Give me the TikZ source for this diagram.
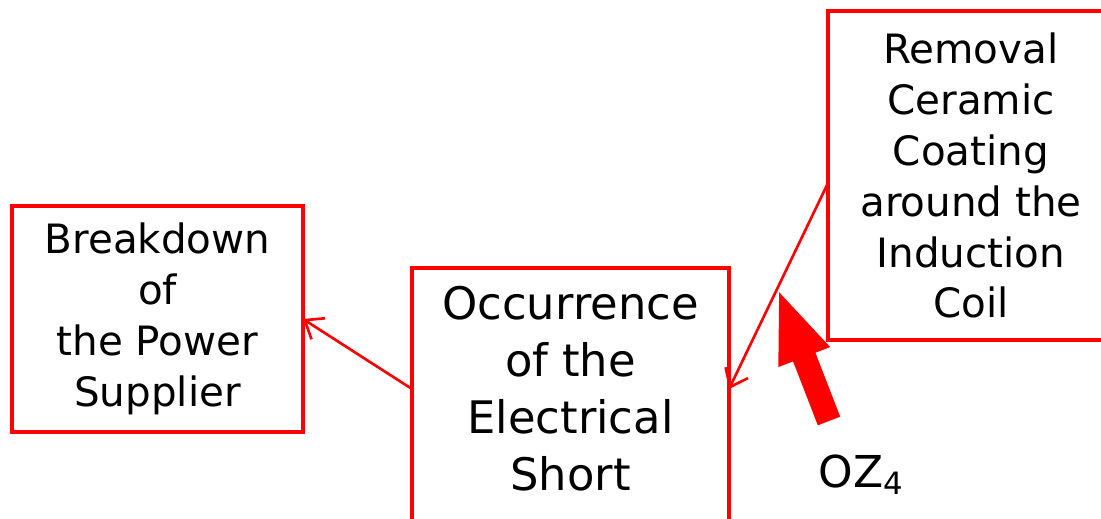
\documentclass[tikz,border=0pt]{standalone}
\usepackage{fontspec}
\setmainfont{DejaVu Sans}
\usetikzlibrary{arrows.meta,positioning}

\begin{document}
\begin{tikzpicture}[
  box/.style={draw=red, line width=2.2pt, align=center, inner sep=0pt, outer sep=0pt,
              font=\fontsize{23}{29}\selectfont},
  link/.style={draw=red, line width=1.5pt, -{Straight Barb[length=0.32cm, width=0.5cm]}},
  push/.style={red, line width=0.48cm, -{Triangle[length=1.48cm, width=0.98cm]}},
]
\useasboundingbox (0,0) rectangle (22.02,10.36);

% Effect and cause boxes
\node[box, minimum width=5.82cm, minimum height=4.52cm] (power) at (3.15,3.98)
  {Breakdown\\of\\the Power\\Supplier};
\node[box, minimum width=6.34cm, minimum height=6cm, anchor=north] (short) at (11.41,5.0) {};
\node[font=\fontsize{25.5}{32.4}\selectfont, align=center, inner sep=0pt] (shorttext)
  at (11.41,2.58) {Occurrence\\of the\\Electrical\\Short};
\node[box, minimum width=5.72cm, minimum height=6.58cm] (coil) at (19.42,6.85)
  {Removal\\Ceramic\\Coating\\around the\\Induction\\Coil};

% Cause chain
\draw[link] ([yshift=-0.15cm]coil.west) -- coordinate[pos=0.51] (hit)
  (short.east |- shorttext.center);
\draw[link] (short.west |- shorttext.center) -- (power.east);

% Operating zone marker
\coordinate (tail) at (16.58,1.94);
\draw[push] (tail) -- (hit);
\node[font=\fontsize{25}{30}\selectfont, inner sep=0pt] (oz) at (17.23,0.86) {OZ\textsubscript{4}};

\end{tikzpicture}
\end{document}
